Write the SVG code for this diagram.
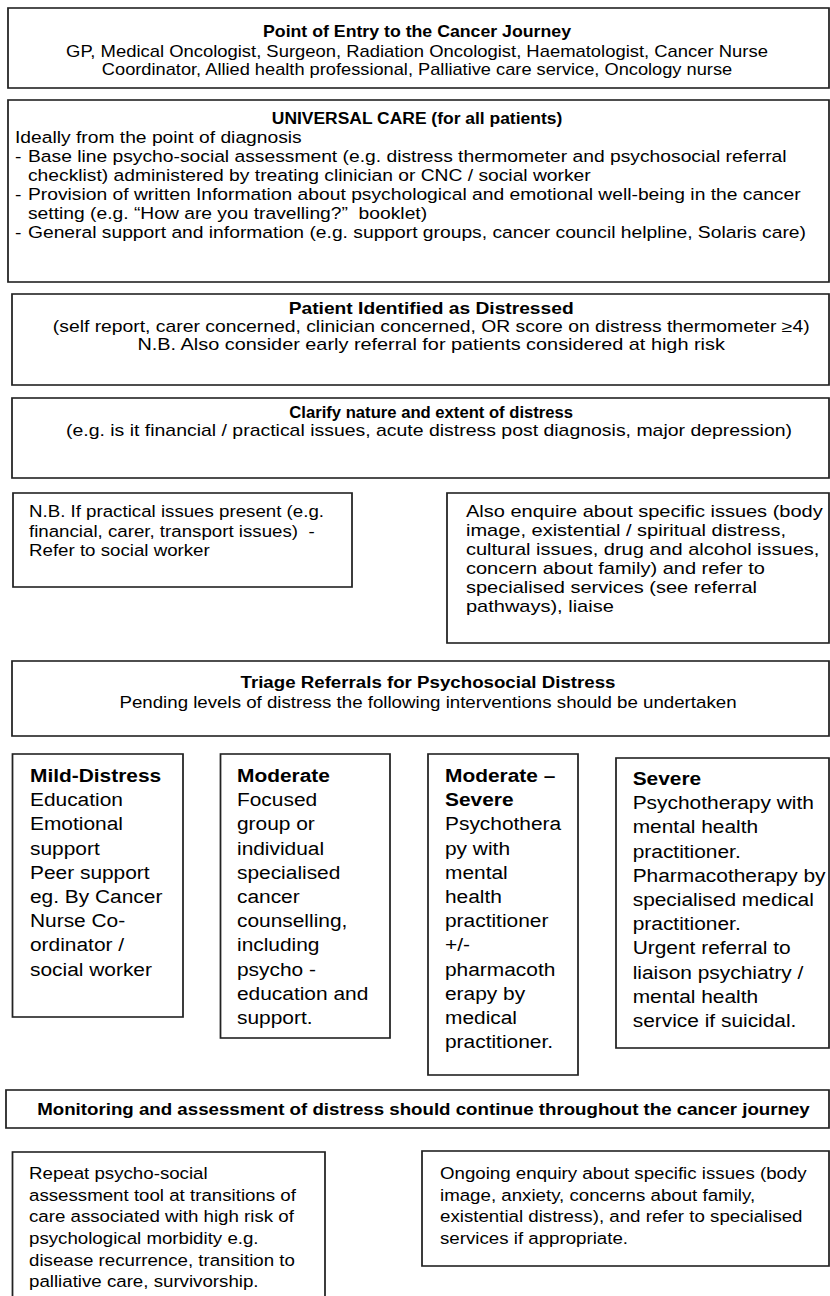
<svg xmlns="http://www.w3.org/2000/svg" width="830" height="1296" viewBox="0 0 830 1296">
<style>
.box{fill:#fff;stroke:#222;stroke-width:1.6}
text{font-family:"Liberation Sans",Arial,Helvetica,sans-serif;fill:#000;font-size:17px}
.b{font-weight:bold}
.c{text-anchor:middle}
.l{font-size:19px}
.m{font-size:16px}
</style>
<rect width="830" height="1296" fill="#fff"/>
<g transform="scale(1.1,1)">
<g id="connectors"></g>
<g id="entry">
<rect class="box" x="7.27" y="8" width="746.36" height="80"/>
<text class="c b m" x="379.1" y="37" textLength="280" lengthAdjust="spacingAndGlyphs">Point of Entry to the Cancer Journey</text>
<text class="c m" x="379.1" y="57" textLength="638" lengthAdjust="spacingAndGlyphs">GP, Medical Oncologist, Surgeon, Radiation Oncologist, Haematologist, Cancer Nurse</text>
<text class="c m" x="379.1" y="75" textLength="573" lengthAdjust="spacingAndGlyphs">Coordinator, Allied health professional, Palliative care service, Oncology nurse</text>
</g>
<g id="universal">
<rect class="box" x="7.27" y="100" width="746.36" height="182"/>
<text class="c b" x="379.1" y="124" textLength="264" lengthAdjust="spacingAndGlyphs">UNIVERSAL CARE (for all patients)</text>
<g transform="scale(1.03,1)">
<text x="13.2" y="143">Ideally from the point of diagnosis</text>
<text x="13.2" y="162">-</text>
<text x="24.7" y="162">Base line psycho-social assessment (e.g. distress thermometer and psychosocial referral</text>
<text x="24.7" y="181">checklist) administered by treating clinician or CNC / social worker</text>
<text x="13.2" y="200">-</text>
<text x="24.7" y="200">Provision of written Information about psychological and emotional well-being in the cancer</text>
<text x="24.7" y="219">setting (e.g. “How are you travelling?”&#160; booklet)</text>
<text x="13.2" y="238">-</text>
<text x="24.7" y="238">General support and information (e.g. support groups, cancer council helpline, Solaris care)</text>
</g>
</g>
<g id="distressed">
<rect class="box" x="10.91" y="294" width="742.73" height="91"/>
<text class="c b m" x="392" y="314" textLength="259" lengthAdjust="spacingAndGlyphs">Patient Identified as Distressed</text>
<text class="c m" x="392" y="332" textLength="688" lengthAdjust="spacingAndGlyphs">(self report, carer concerned, clinician concerned, OR score on distress thermometer ≥4)</text>
<text class="c m" x="392" y="350" textLength="534" lengthAdjust="spacingAndGlyphs">N.B. Also consider early referral for patients considered at high risk</text>
</g>
<g id="clarify">
<rect class="box" x="10.91" y="398" width="742.73" height="80"/>
<text class="c b m" x="392" y="418" textLength="258" lengthAdjust="spacingAndGlyphs">Clarify nature and extent of distress</text>
<text class="c m" x="390" y="436" textLength="660" lengthAdjust="spacingAndGlyphs">(e.g. is it financial / practical issues, acute distress post diagnosis, major depression)</text>
</g>
<g id="practical">
<rect class="box" x="11.82" y="493" width="308.18" height="94"/>
<text x="26.36" y="517">N.B. If practical issues present (e.g.</text>
<text x="26.36" y="537">financial, carer, transport issues)&#160; -</text>
<text x="26.36" y="556">Refer to social worker</text>
</g>
<g id="specific">
<rect class="box" x="406.36" y="493" width="347.27" height="150"/>
<g transform="translate(423.64,0) scale(1.07,1)">
<text x="0" y="517">Also enquire about specific issues (body</text>
<text x="0" y="536">image, existential / spiritual distress,</text>
<text x="0" y="555">cultural issues, drug and alcohol issues,</text>
<text x="0" y="574">concern about family) and refer to</text>
<text x="0" y="593">specialised services (see referral</text>
<text x="0" y="612">pathways), liaise</text>
</g>
</g>
<g id="triage">
<rect class="box" x="10.91" y="661" width="742.73" height="75"/>
<text class="c b" x="389.1" y="688">Triage Referrals for Psychosocial Distress</text>
<text class="c" x="389.1" y="708">Pending levels of distress the following interventions should be undertaken</text>
</g>
<g id="mild">
<rect class="box" x="11.36" y="754" width="155" height="263"/>
<text class="l b" x="27.27" y="782">Mild-Distress</text>
<text class="l" x="27.27" y="806.2">Education</text>
<text class="l" x="27.27" y="830.4">Emotional</text>
<text class="l" x="27.27" y="854.6">support</text>
<text class="l" x="27.27" y="878.8">Peer support</text>
<text class="l" x="27.27" y="903">eg. By Cancer</text>
<text class="l" x="27.27" y="927.2">Nurse Co-</text>
<text class="l" x="27.27" y="951.4">ordinator /</text>
<text class="l" x="27.27" y="975.6">social worker</text>
</g>
<g id="moderate">
<rect class="box" x="200.45" y="754" width="154.09" height="284"/>
<text class="l b" x="215.45" y="782">Moderate</text>
<text class="l" x="215.45" y="806.2">Focused</text>
<text class="l" x="215.45" y="830.4">group or</text>
<text class="l" x="215.45" y="854.6">individual</text>
<text class="l" x="215.45" y="878.8">specialised</text>
<text class="l" x="215.45" y="903">cancer</text>
<text class="l" x="215.45" y="927.2">counselling,</text>
<text class="l" x="215.45" y="951.4">including</text>
<text class="l" x="215.45" y="975.6">psycho -</text>
<text class="l" x="215.45" y="999.8">education and</text>
<text class="l" x="215.45" y="1024">support.</text>
</g>
<g id="modsevere">
<rect class="box" x="389.09" y="754" width="136.36" height="321"/>
<text class="l b" x="404.55" y="782">Moderate –</text>
<text class="l b" x="404.55" y="806.2">Severe</text>
<text class="l" x="404.55" y="830.4">Psychothera</text>
<text class="l" x="404.55" y="854.6">py with</text>
<text class="l" x="404.55" y="878.8">mental</text>
<text class="l" x="404.55" y="903">health</text>
<text class="l" x="404.55" y="927.2">practitioner</text>
<text class="l" x="404.55" y="951.4">+/-</text>
<text class="l" x="404.55" y="975.6">pharmacoth</text>
<text class="l" x="404.55" y="999.8">erapy by</text>
<text class="l" x="404.55" y="1024">medical</text>
<text class="l" x="404.55" y="1048.2">practitioner.</text>
</g>
<g id="severe">
<rect class="box" x="560" y="758" width="193.64" height="290"/>
<text class="l b" x="575.18" y="785">Severe</text>
<text class="l" x="575.18" y="809.2">Psychotherapy with</text>
<text class="l" x="575.18" y="833.4">mental health</text>
<text class="l" x="575.18" y="857.6">practitioner.</text>
<text class="l" x="575.18" y="881.8">Pharmacotherapy by</text>
<text class="l" x="575.18" y="906">specialised medical</text>
<text class="l" x="575.18" y="930.2">practitioner.</text>
<text class="l" x="575.18" y="954.4">Urgent referral to</text>
<text class="l" x="575.18" y="978.6">liaison psychiatry /</text>
<text class="l" x="575.18" y="1002.8">mental health</text>
<text class="l" x="575.18" y="1027">service if suicidal.</text>
</g>
<g id="monitoring">
<rect class="box" x="5.45" y="1090" width="748.18" height="38"/>
<text class="c b" x="385" y="1115">Monitoring and assessment of distress should continue throughout the cancer journey</text>
</g>
<g id="repeat">
<rect class="box" x="11.36" y="1152" width="284.09" height="160"/>
<text x="26.36" y="1179">Repeat psycho-social</text>
<text x="26.36" y="1200.7">assessment tool at transitions of</text>
<text x="26.36" y="1222.4">care associated with high risk of</text>
<text x="26.36" y="1244.1">psychological morbidity e.g.</text>
<text x="26.36" y="1265.8">disease recurrence, transition to</text>
<text x="26.36" y="1287.5">palliative care, survivorship.</text>
</g>
<g id="ongoing">
<rect class="box" x="383.64" y="1151" width="370" height="115"/>
<text x="400" y="1179">Ongoing enquiry about specific issues (body</text>
<text x="400" y="1200.7">image, anxiety, concerns about family,</text>
<text x="400" y="1222.4">existential distress), and refer to specialised</text>
<text x="400" y="1244.1">services if appropriate.</text>
</g>
</g>
</svg>
